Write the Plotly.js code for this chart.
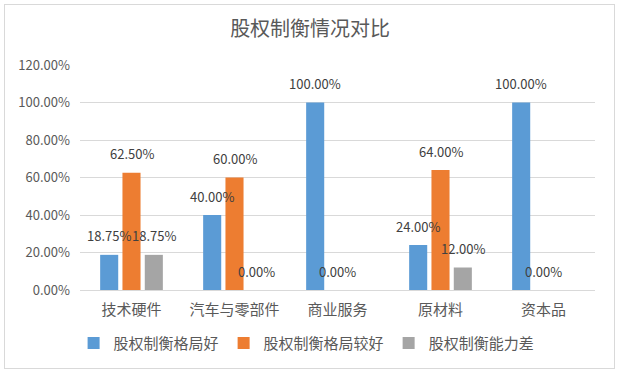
<!DOCTYPE html>
<html>
<head>
<meta charset="utf-8">
<script src="https://cdn.plot.ly/plotly-3.0.1.min.js"></script>
<style>
html,body{margin:0;padding:0;background:#fff;}
#wrap{position:relative;width:624px;height:376px;}
#chart{width:624px;height:376px;}
#frame{position:absolute;left:4px;top:4px;width:611px;height:365px;border:1px solid #d9d9d9;pointer-events:none;box-sizing:border-box;}
</style>
</head>
<body>
<div id="wrap"><div id="chart"></div><div id="frame"></div></div>
<script>
const categories = ['技术硬件', '汽车与零部件', '商业服务', '原材料', '资本品'];
const seriesNames = ['股权制衡格局好', '股权制衡格局较好', '股权制衡能力差'];
const good = [0.1875, 0.40, 1.00, 0.24, 1.00];
const fairlyGood = [0.625, 0.60, 0.00, 0.64, 0.00];
const poor = [0.1875, 0.00, null, 0.12, null];
const yTicks = [0, 0.2, 0.4, 0.6, 0.8, 1.0, 1.2];

const colors = ['#5b9bd5', '#ed7d31', '#a5a5a5'];
const allSeries = [good, fairlyGood, poor];
const font = '"Noto Sans CJK SC", "Noto Sans", sans-serif';

const plotW = 624 - 80 - 29;
const bargap = 0.35;
const slot = plotW / categories.length * (1 - bargap) / 3;

const traces = allSeries.map((vals, i) => ({
  type: 'bar',
  name: seriesNames[i],
  x: categories,
  y: vals,
  marker: {color: colors[i]},
  hoverinfo: 'skip'
}));

const annotations = [];
allSeries.forEach((vals, i) => {
  vals.forEach((v, j) => {
    if (v === null) return;
    annotations.push({
      x: categories[j], y: v, xref: 'x', yref: 'y',
      text: (v * 100).toFixed(2) + '%',
      showarrow: false,
      xshift: (i - 1) * slot,
      yshift: 19,
      font: {family: font, size: 13, color: '#404040'}
    });
  });
});

const layout = {
  width: 624, height: 376,
  margin: {l: 80, r: 29, t: 65, b: 86},
  paper_bgcolor: '#fff', plot_bgcolor: '#fff',
  title: {text: '股权制衡情况对比', x: 0.497, xanchor: 'center', y: 0.923, yanchor: 'middle',
          font: {family: font, size: 20, color: '#595959'}},
  barmode: 'group', bargap: bargap, bargroupgap: 0.19,
  xaxis: {type: 'category', showgrid: false, showline: true, linecolor: '#d9d9d9', linewidth: 1,
          ticks: '', ticklabelstandoff: 6, tickfont: {family: font, size: 15, color: '#595959'}, fixedrange: true},
  yaxis: {range: [0, 1.2], tickvals: yTicks, tickformat: '.2%', showgrid: true, gridcolor: '#d9d9d9',
          zeroline: false, showline: false, ticks: '', ticklen: 0, ticklabelstandoff: 9,
          tickfont: {family: font, size: 13, color: '#595959'}, fixedrange: true},
  showlegend: true,
  legend: {orientation: 'h', x: 0.44, xanchor: 'center', y: -0.237, yanchor: 'middle',
           font: {family: font, size: 15, color: '#595959'}, itemwidth: 30, tracegroupgap: 0},
  annotations: annotations
};

Plotly.newPlot('chart', traces, layout, {displayModeBar: false, staticPlot: true});
</script>
</body>
</html>
